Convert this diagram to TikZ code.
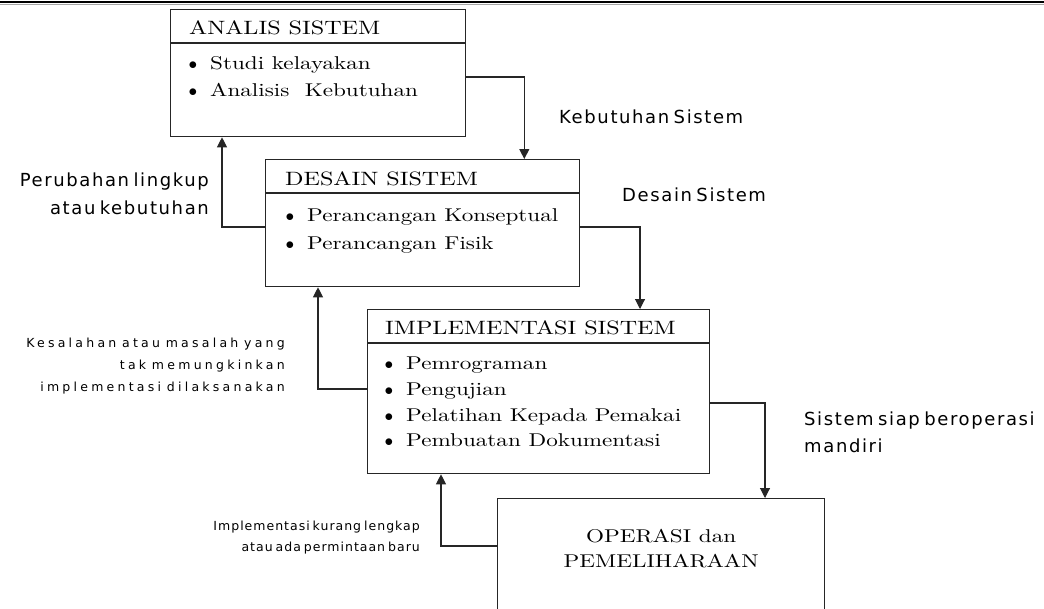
\documentclass[tikz,border=0pt]{standalone}
\usepackage{fontspec}
\usetikzlibrary{arrows.meta}
\newfontfamily\boxfont{lmroman10-regular}[Extension=.otf,FakeStretch=1.25]
\newfontfamily\lblfont{DejaVu Sans}[LetterSpace=9,WordSpace=0.6]
\newfontfamily\smlfonta{DejaVu Sans}[LetterSpace=26,WordSpace=0.8]
\newfontfamily\smlfontb{DejaVu Sans}[LetterSpace=8,WordSpace=0.6]
\newcommand{\bul}{\makebox[21.5pt][l]{$\bullet$}}
\tikzset{
  box/.style={draw=black!85, line width=1.3pt, rectangle, inner sep=0pt, anchor=north west},
  divider/.style={draw=black!85, line width=1.3pt},
  conn/.style={draw=black!85, line width=1.1pt, -{Triangle[length=10pt,width=10pt]}},
  ttl/.style={anchor=base west, inner sep=0pt, font=\boxfont\fontsize{19.3}{24}\selectfont},
  itm/.style={anchor=base west, inner sep=0pt, font=\boxfont\fontsize{18.5}{24}\selectfont},
  optl/.style={anchor=base, inner sep=0pt, font=\boxfont\fontsize{18.5}{24}\selectfont},
  lbl/.style={inner sep=0pt, font=\lblfont\fontsize{18}{24}\selectfont},
  smla/.style={inner sep=0pt, anchor=base east, font=\smlfonta\fontsize{12.5}{16}\selectfont},
  smlb/.style={inner sep=0pt, anchor=base east, font=\smlfontb\fontsize{12.5}{16}\selectfont},
}
\begin{document}
\begin{tikzpicture}[x=1pt,y=-1pt]
\useasboundingbox (0,0) rectangle (1044,608);
% top rule
\draw[line width=2.6pt] (0,2) -- (1044,2);
\draw[black!35, line width=0.7pt] (0,4.6) -- (1044,4.6);

% boxes
\node[box, minimum width=295pt, minimum height=127pt] (b1) at (170,9) {};
\node[box, minimum width=314pt, minimum height=127pt] (b2) at (265,159) {};
\node[box, minimum width=342pt, minimum height=164pt] (b3) at (367,309) {};
\node[box, minimum width=327pt, minimum height=130pt] (b4) at (497,498) {};

% dividers
\draw[divider] ([yshift=-34pt]b1.north west) -- ([yshift=-34pt]b1.north east);
\draw[divider] ([yshift=-34pt]b2.north west) -- ([yshift=-34pt]b2.north east);
\draw[divider] ([yshift=-34pt]b3.north west) -- ([yshift=-34pt]b3.north east);

% box 1
\node[ttl] (t1) at ([xshift=19pt,yshift=-25pt]b1.north west) {ANALIS SISTEM};
\node[itm] (i11) at ([xshift=18.5pt,yshift=-60pt]b1.north west) {\bul Studi kelayakan};
\node[itm] (i12) at ([xshift=18.5pt,yshift=-87pt]b1.north west) {\bul Analisis\ \ Kebutuhan};

% box 2
\node[ttl] (t2) at ([xshift=20pt,yshift=-26pt]b2.north west) {DESAIN SISTEM};
\node[itm] (i21) at ([xshift=20.5pt,yshift=-62pt]b2.north west) {\bul Perancangan Konseptual};
\node[itm] (i22) at ([xshift=20.5pt,yshift=-90pt]b2.north west) {\bul Perancangan Fisik};

% box 3
\node[ttl] (t3) at ([xshift=18pt,yshift=-25pt]b3.north west) {IMPLEMENTASI SISTEM};
\node[itm] (i31) at ([xshift=17.5pt,yshift=-60pt]b3.north west) {\bul Pemrograman};
\node[itm] (i32) at ([xshift=17.5pt,yshift=-86pt]b3.north west) {\bul Pengujian};
\node[itm] (i33) at ([xshift=17.5pt,yshift=-112pt]b3.north west) {\bul Pelatihan Kepada Pemakai};
\node[itm] (i34) at ([xshift=17.5pt,yshift=-137pt]b3.north west) {\bul Pembuatan Dokumentasi};

% box 4
\node[optl] (t4a) at ([yshift=-44pt]b4.north) {OPERASI dan};
\node[optl] (t4b) at ([yshift=-69pt]b4.north) {PEMELIHARAAN};

% connectors
\draw[conn] ([yshift=-68pt]b1.north east) -| ([xshift=-56pt]b2.north east);
\draw[conn] ([yshift=-68pt]b2.north west) -| ([xshift=52pt]b1.south west);
\draw[conn] ([yshift=-68pt]b2.north east) -| ([xshift=273pt]b3.north west);
\draw[conn] ([yshift=-80pt]b3.north west) -| ([xshift=53pt]b2.south west);
\draw[conn] ([yshift=-94pt]b3.north east) -| ([xshift=268pt]b4.north west);
\draw[conn] ([yshift=-48pt]b4.north west) -| ([xshift=74pt]b3.south west);

% labels
\node[lbl, anchor=base west] (l1) at (559,123) {Kebutuhan Sistem};
\node[lbl, anchor=base west] (l2) at (622,201) {Desain Sistem};
\node[lbl, anchor=base east] (l3a) at (209,186) {Perubahan lingkup};
\node[lbl, anchor=base east] (l3b) at (209,214) {atau kebutuhan};
\node[lbl, anchor=base west] (l4a) at (804,425) {Sistem siap beroperasi};
\node[lbl, anchor=base west] (l4b) at (804,452) {mandiri};
\node[smla] (l5a) at (285,347) {Kesalahan atau masalah yang};
\node[smla] (l5b) at (285,369) {tak memungkinkan};
\node[smla] (l5c) at (285,391) {implementasi dilaksanakan};
\node[smlb] (l6a) at (420,530) {Implementasi kurang lengkap};
\node[smlb] (l6b) at (420,551) {atau ada permintaan baru};
\end{tikzpicture}
\end{document}
